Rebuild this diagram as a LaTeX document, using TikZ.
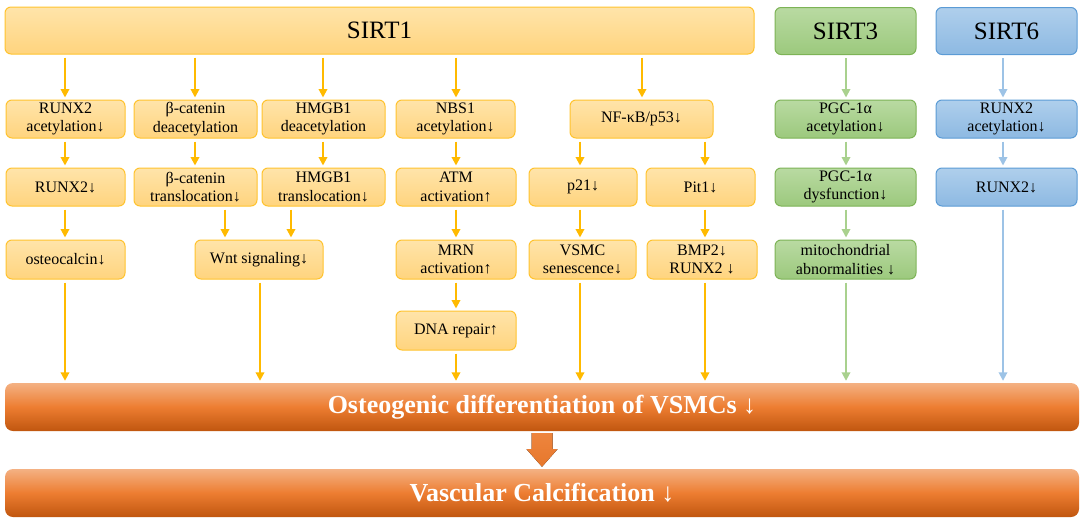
\documentclass[tikz,border=0pt]{standalone}
\usepackage{fontspec}
\setmainfont{Liberation Serif}
\usetikzlibrary{arrows.meta,calc}
\definecolor{oBord}{HTML}{FFC32E}
\definecolor{oTop}{HTML}{FFE4AA}
\definecolor{oBot}{HTML}{FFD47E}
\definecolor{oArr}{HTML}{FFBA00}
\definecolor{gBord}{HTML}{7DB356}
\definecolor{gTop}{HTML}{B9DAA2}
\definecolor{gBot}{HTML}{9CC97D}
\definecolor{gArr}{HTML}{A9D18E}
\definecolor{bBord}{HTML}{5B9BD5}
\definecolor{bTop}{HTML}{AFCFEC}
\definecolor{bBot}{HTML}{8DB9E2}
\definecolor{bArr}{HTML}{9DC3E6}
\definecolor{barTop}{HTML}{F4B183}
\definecolor{barMid}{HTML}{ED7D31}
\definecolor{barBot}{HTML}{C0560F}
\tikzset{
  x=1pt, y=-1pt,
  box/.style={rounded corners=6pt, line width=1pt, align=center, inner sep=0pt,
    font=\fontsize{16}{18.5}\selectfont, text=black},
  ob/.style={box, draw=oBord, top color=oTop, bottom color=oBot},
  gb/.style={box, draw=gBord, top color=gTop, bottom color=gBot},
  bb/.style={box, draw=bBord, top color=bTop, bottom color=bBot},
  head/.style={font=\fontsize{25}{28}\selectfont, minimum height=47pt},
  bar/.style={rounded corners=8pt, top color=barTop, bottom color=barBot, middle color=barMid,
    minimum width=1074pt, minimum height=48pt, inner sep=0pt, text=white,
    font=\fontsize{26}{30}\selectfont\bfseries},
  tipA/.tip={Triangle[length=8.5pt,width=8.5pt]},
  oarr/.style={draw=oArr, line width=2pt, -{tipA}, shorten <=3pt, shorten >=2pt},
  garr/.style={draw=gArr, line width=1.8pt, -{tipA}, shorten <=3pt, shorten >=2pt},
  barr/.style={draw=bArr, line width=1.8pt, -{tipA}, shorten <=3pt, shorten >=2pt},
}
\begin{document}
\begin{tikzpicture}
\useasboundingbox (0,0) rectangle (1084,522);
% headers
\node[ob, head, minimum width=749pt] (sirt1) at (379.5,30.5) {SIRT1};
\node[gb, head, minimum width=141pt] (sirt3) at (845.5,31) {SIRT3};
\node[bb, head, minimum width=141pt] (sirt6) at (1006.5,31) {SIRT6};
% row 1
\node[ob, minimum width=119pt, minimum height=38pt] (r1a) at (65.5,119) {RUNX2\\acetylation↓};
\node[ob, minimum width=123pt, minimum height=38pt] (r1b) at (195.5,119) {β-catenin\\deacetylation};
\node[ob, minimum width=123pt, minimum height=38pt] (r1c) at (323.5,119) {HMGB1\\deacetylation};
\node[ob, minimum width=119pt, minimum height=38pt] (r1d) at (455.5,119) {NBS1\\acetylation↓};
\node[ob, minimum width=143pt, minimum height=38pt] (r1e) at (641.5,119) {NF-κB/p53↓};
\node[gb, minimum width=141pt, minimum height=38pt] (r1f) at (845.5,119) {PGC-1α\\acetylation↓};
\node[bb, minimum width=141pt, minimum height=38pt] (r1g) at (1006.5,119) {RUNX2\\acetylation↓};
% row 2
\node[ob, minimum width=119pt, minimum height=38pt] (r2a) at (65.5,187) {RUNX2↓};
\node[ob, minimum width=123pt, minimum height=38pt] (r2b) at (195.5,187) {β-catenin\\translocation↓};
\node[ob, minimum width=123pt, minimum height=38pt] (r2c) at (323.5,187) {HMGB1\\translocation↓};
\node[ob, minimum width=120pt, minimum height=38pt] (r2d) at (456,187) {ATM\\activation↑};
\node[ob, minimum width=108pt, minimum height=38pt] (r2e) at (583,187) {p21↓};
\node[ob, minimum width=109pt, minimum height=38pt] (r2f) at (700.5,187) {Pit1↓};
\node[gb, minimum width=141pt, minimum height=38pt] (r2g) at (845.5,187) {PGC-1α\\dysfunction↓};
\node[bb, minimum width=141pt, minimum height=38pt] (r2h) at (1006.5,187) {RUNX2↓};
% row 3
\node[ob, minimum width=119pt, minimum height=39pt] (r3a) at (65.5,259.5) {osteocalcin↓};
\node[ob, minimum width=128pt, minimum height=39pt] (r3b) at (259,259.5) {Wnt signaling↓};
\node[ob, minimum width=120pt, minimum height=39pt] (r3d) at (456,259.5) {MRN\\activation↑};
\node[ob, minimum width=107pt, minimum height=39pt] (r3e) at (582.5,259.5) {VSMC\\senescence↓};
\node[ob, minimum width=110pt, minimum height=39pt] (r3f) at (702,259.5) {BMP2↓\\RUNX2 ↓};
\node[gb, minimum width=141pt, minimum height=39pt] (r3g) at (845.5,259.5) {mitochondrial\\abnormalities ↓};
% row 4
\node[ob, minimum width=120pt, minimum height=39pt] (r4d) at (456,330.5) {DNA repair↑};
% bars
\node[bar] (bar1) at (542,407) {Osteogenic differentiation of VSMCs ↓};
\node[bar] (bar2) at (542,493) {Vascular Calcification ↓};
% column coordinates
\coordinate (cA) at (65,0);
\coordinate (cB0) at (195,0);
\coordinate (cB1) at (225,0);
\coordinate (cC0) at (323,0);
\coordinate (cB2) at (291,0);
\coordinate (cW) at (260,0);
\coordinate (cD) at (456,0);
\coordinate (cE) at (580,0);
\coordinate (cN) at (642,0);
\coordinate (cF) at (705,0);
\coordinate (cG) at (846,0);
\coordinate (cH) at (1003,0);
% SIRT1 branches
\draw[oarr] (sirt1.south -| cA) -- (r1a.north -| cA);
\draw[oarr] (sirt1.south -| cB0) -- (r1b.north -| cB0);
\draw[oarr] (sirt1.south -| cC0) -- (r1c.north -| cC0);
\draw[oarr] (sirt1.south -| cD) -- (r1d.north -| cD);
\draw[oarr] (sirt1.south -| cN) -- (r1e.north -| cN);
% column A
\draw[oarr] (r1a.south -| cA) -- (r2a.north -| cA);
\draw[oarr] (r2a.south -| cA) -- (r3a.north -| cA);
\draw[oarr] (r3a.south -| cA) -- (bar1.north -| cA);
% columns B/C
\draw[oarr] (r1b.south -| cB0) -- (r2b.north -| cB0);
\draw[oarr] (r1c.south -| cC0) -- (r2c.north -| cC0);
\draw[oarr] (r2b.south -| cB1) -- (r3b.north -| cB1);
\draw[oarr] (r2c.south -| cB2) -- (r3b.north -| cB2);
\draw[oarr] (r3b.south -| cW) -- (bar1.north -| cW);
% column D
\draw[oarr] (r1d.south -| cD) -- (r2d.north -| cD);
\draw[oarr] (r2d.south -| cD) -- (r3d.north -| cD);
\draw[oarr] (r3d.south -| cD) -- (r4d.north -| cD);
\draw[oarr] (r4d.south -| cD) -- (bar1.north -| cD);
% NF-kB branches
\draw[oarr] (r1e.south -| cE) -- (r2e.north -| cE);
\draw[oarr] (r1e.south -| cF) -- (r2f.north -| cF);
\draw[oarr] (r2e.south -| cE) -- (r3e.north -| cE);
\draw[oarr] (r2f.south -| cF) -- (r3f.north -| cF);
\draw[oarr] (r3e.south -| cE) -- (bar1.north -| cE);
\draw[oarr] (r3f.south -| cF) -- (bar1.north -| cF);
% SIRT3
\draw[garr] (sirt3.south -| cG) -- (r1f.north -| cG);
\draw[garr] (r1f.south -| cG) -- (r2g.north -| cG);
\draw[garr] (r2g.south -| cG) -- (r3g.north -| cG);
\draw[garr] (r3g.south -| cG) -- (bar1.north -| cG);
% SIRT6
\draw[barr] (sirt6.south -| cH) -- (r1g.north -| cH);
\draw[barr] (r1g.south -| cH) -- (r2h.north -| cH);
\draw[barr] (r2h.south -| cH) -- (bar1.north -| cH);
% big arrow between bars
\fill[top color=barMid!85!barTop, bottom color=barMid!85!barBot]
  ($(bar1.south)+(-10.5,2)$) -- ++(21,0) -- ++(0,16) -- ++(5,0)
  -- ($(bar2.north)+(0,-2)$) -- ($(bar1.south)+(-15.5,18)$) -- ++(5,0) -- cycle;
\end{tikzpicture}
\end{document}
